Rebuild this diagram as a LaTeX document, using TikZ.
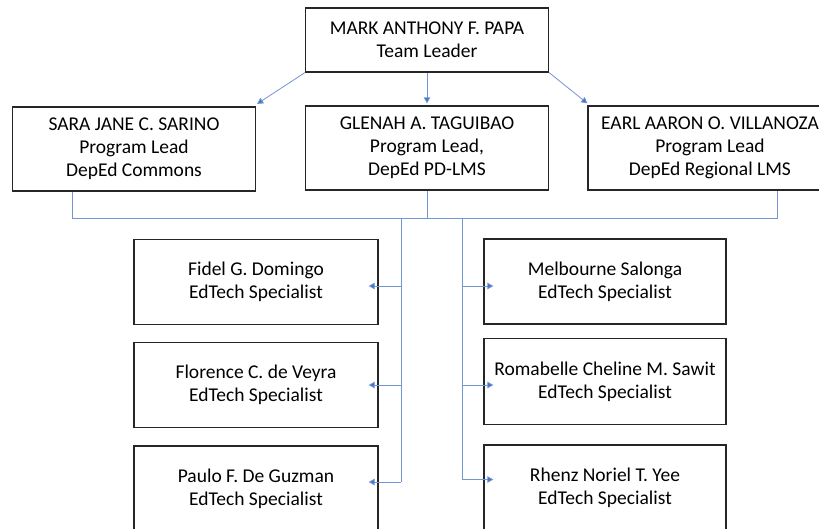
\documentclass[tikz,border=0pt]{standalone}
\usepackage{fontspec}
\setmainfont{Carlito}
\usetikzlibrary{arrows.meta,calc}
\definecolor{conn}{HTML}{4472C4}
\definecolor{boxline}{HTML}{262626}
\newcommand\orgtopstrut{\rule{0pt}{17pt}}
\tikzset{
  orgbox/.style={draw=boxline, line width=1.3pt, rectangle, inner sep=0pt, align=center,
    minimum width=243pt, font=\fontsize{19.5}{23}\selectfont, text=black,
    execute at begin node=\orgtopstrut},
  link/.style={draw=conn!75, line width=0.8pt},
  arrowlink/.style={link, -{Triangle[length=6pt,width=6.5pt,fill=conn]}}
}
\begin{document}
\begin{tikzpicture}[x=1pt,y=-1pt]
\useasboundingbox (0,0) rectangle (819,528);
\clip (0,0) rectangle (819,528);
\fill[white] (0,0) rectangle (819,528);

\node[orgbox, minimum height=64pt] (mark) at (427,40) {MARK ANTHONY F. PAPA\\Team Leader};
\node[orgbox, minimum height=84pt] (sara) at (134,149) {SARA JANE C. SARINO\\Program Lead\\DepEd Commons};
\node[orgbox, minimum height=84pt] (glenah) at (427,148) {GLENAH A. TAGUIBAO\\Program Lead,\\DepEd PD-LMS};
\node[orgbox, minimum height=84pt, minimum width=244pt] (earl) at (710,148) {EARL AARON O. VILLANOZA\\Program Lead\\DepEd Regional LMS};

\node[orgbox, minimum width=244pt, minimum height=85pt] (l1) at (256,281.8) {Fidel G. Domingo\\EdTech Specialist};
\node[orgbox, minimum width=244pt, minimum height=85pt] (l2) at (256,385.2) {Florence C. de Veyra\\EdTech Specialist};
\node[orgbox, minimum width=244pt, minimum height=85pt] (l3) at (256,488.5) {Paulo F. De Guzman\\EdTech Specialist};

\node[orgbox, minimum width=242pt, minimum height=85pt] (r1) at (605,281.5) {Melbourne Salonga\\EdTech Specialist};
\node[orgbox, minimum width=242pt, minimum height=86pt] (r2) at (605,381.3) {Romabelle Cheline M. Sawit\\EdTech Specialist};
\node[orgbox, minimum width=242pt, minimum height=85pt] (r3) at (605,487.5) {Rhenz Noriel T. Yee\\EdTech Specialist};

% top arrows
\draw[arrowlink] (mark.south west) -- ($(sara.north east)+(1,-2.5)$);
\draw[arrowlink] (mark.south) -- ($(glenah.north)+(0,-2)$);
\draw[arrowlink] (mark.south east) -- ($(earl.north west)+(0,-2)$);

% bus
\coordinate (sbus) at (72,218);
\coordinate (ebus) at (777,218);
\coordinate (gbus) at (427,218);
\coordinate (lbus) at (401,218);
\coordinate (rbus) at (462,218);
\draw[link] (sara.south -| sbus) -- (sbus) -- (ebus) -- (earl.south -| ebus);
\draw[link] (glenah.south) -- (gbus);

% left column
\coordinate (lb1) at (401,286);
\coordinate (lb2) at (401,385);
\coordinate (lb3) at (401,482);
\draw[link] (lbus) -- (lb3);
\draw[arrowlink] (lb1) -- ($(l1.east |- lb1)+(-10,0)$);
\draw[arrowlink] (lb2) -- ($(l2.east |- lb2)+(-10,0)$);
\draw[arrowlink] (lb3) -- ($(l3.east |- lb3)+(-10,0)$);

% right column
\coordinate (rb1) at (462,286);
\coordinate (rb2) at (462,385);
\coordinate (rb3) at (462,479.5);
\draw[link] (rbus) -- (rb3);
\draw[arrowlink] (rb1) -- ($(r1.west |- rb1)+(10,0)$);
\draw[arrowlink] (rb2) -- ($(r2.west |- rb2)+(10,0)$);
\draw[arrowlink] (rb3) -- ($(r3.west |- rb3)+(10,0)$);
\end{tikzpicture}
\end{document}
